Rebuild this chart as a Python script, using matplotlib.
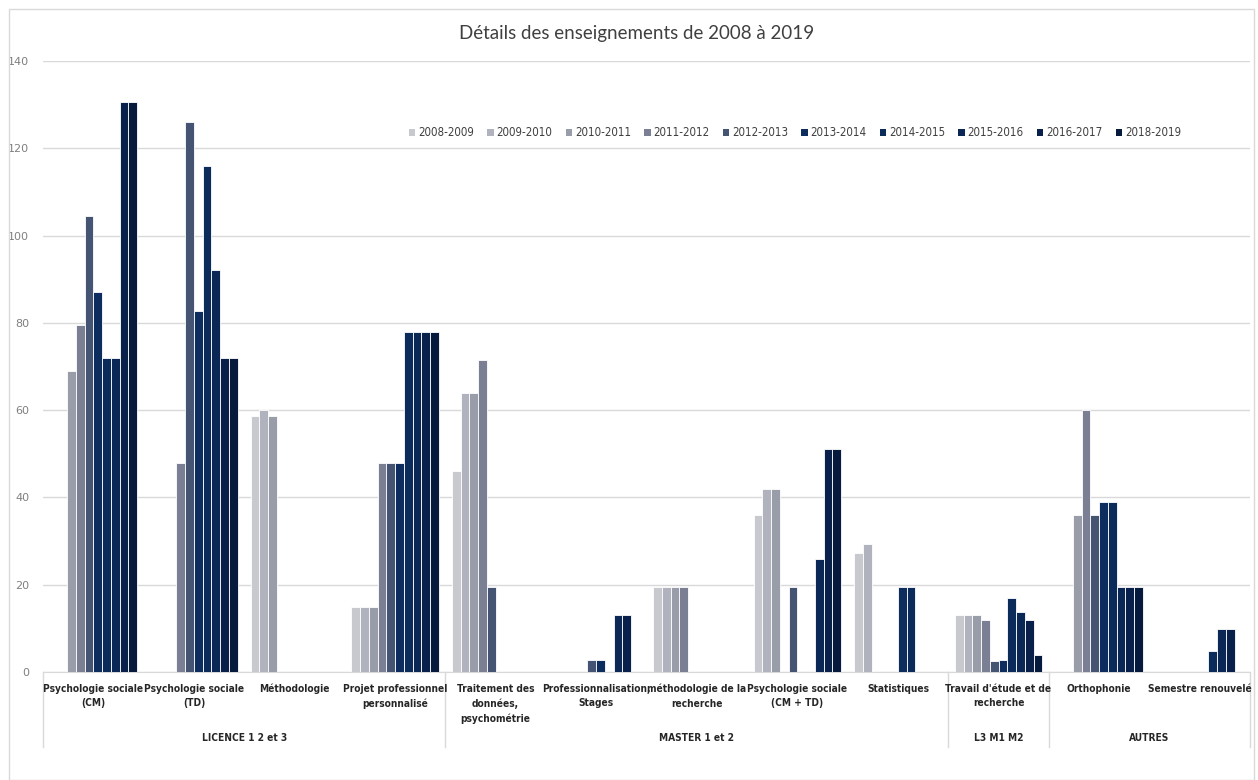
import numpy as np
import matplotlib
matplotlib.use("Agg")
import matplotlib.pyplot as plt
from matplotlib import font_manager
from matplotlib.patches import Rectangle, Patch

categories = [
    "Psychologie sociale\n(CM)", "Psychologie sociale\n(TD)", "Méthodologie",
    "Projet professionnel\npersonnalisé", "Traitement des\ndonnées,\npsychométrie",
    "Professionnalisation,\nStages", "méthodologie de la\nrecherche",
    "Psychologie sociale\n(CM + TD)", "Statistiques",
    "Travail d'étude et de\nrecherche", "Orthophonie", "Semestre renouvelé",
]
groups = ["LICENCE 1 2 et 3", "MASTER 1 et 2", "L3 M1 M2", "AUTRES"]
group_sizes = [4, 5, 1, 2]
years = ["2008-2009", "2009-2010", "2010-2011", "2011-2012", "2012-2013",
         "2013-2014", "2014-2015", "2015-2016", "2016-2017", "2018-2019"]

# one row per category, one value per school year
psy_cm = [0, 0, 69, 79.5, 104.5, 87, 72, 72, 130.5, 130.5]
psy_td = [0, 0, 0, 48, 126, 82.7, 116, 92, 72, 72]
methodo = [58.7, 60, 58.7, 0, 0, 0, 0, 0, 0, 0]
projet = [15, 15, 15, 48, 48, 48, 78, 78, 78, 78]
traitement = [46, 64, 64, 71.5, 19.5, 0, 0, 0, 0, 0]
profess = [0, 0, 0, 0, 2.8, 2.8, 0, 13, 13, 0]
methodo_rech = [19.5, 19.5, 19.5, 19.5, 0, 0, 0, 0, 0, 0]
psy_cmtd = [36, 42, 42, 0, 19.5, 0, 0, 26, 51, 51]
stats = [27.3, 29.4, 0, 0, 0, 19.5, 19.5, 0, 0, 0]
ter = [13, 13, 13, 12, 2.5, 2.8, 17, 13.8, 12, 4]
ortho = [0, 0, 36, 60, 36, 39, 39, 19.5, 19.5, 19.5]
semestre = [0, 0, 0, 0, 0, 0, 4.8, 9.8, 9.8, 0]

values = np.array([psy_cm, psy_td, methodo, projet, traitement, profess,
                   methodo_rech, psy_cmtd, stats, ter, ortho, semestre])

colors = ["#c8c9cf", "#b0b2bd", "#999daa", "#7a7f94", "#465473",
          "#0c2d5e", "#0b2b5a", "#0a2755", "#08204a", "#061a3d"]

# look for a narrow face, the original labels are compressed
installed = font_manager.fontManager.ttflist
narrow = [f.name for f in installed
          if f.stretch in ("condensed", "semi-condensed", "extra-condensed")
          or "Narrow" in f.name or "Condensed" in f.name]
if narrow:
    fam = [narrow[0], "DejaVu Sans"]
    stretch, weight, size = "condensed", "bold", 7.3
else:
    fam = ["Roboto", "DejaVu Sans"]
    stretch, weight, size = "normal", "medium", 7.0

fig = plt.figure(figsize=(12.58, 7.8), dpi=100)
ax = fig.add_axes([43 / 1258, 108 / 780, 1207 / 1258, 611 / 780])

x = np.arange(len(categories))
w = 0.087
for i, year in enumerate(years):
    ax.bar(x + (i - 4.5) * w, values[:, i], width=w, color=colors[i],
           edgecolor="white", linewidth=0.6, label=year, zorder=3)

ax.set_xlim(-0.5, len(categories) - 0.5)
ax.set_ylim(0, 140)
ax.set_yticks(range(0, 141, 20))
ax.tick_params(axis="y", length=0, labelsize=8, labelcolor="#7f7f7f", pad=10)
ax.set_xticks([])
ax.grid(axis="y", color="#d9d9d9", linewidth=1, zorder=0)
for s in ["left", "right", "top"]:
    ax.spines[s].set_visible(False)
ax.spines["bottom"].set_color("#d9d9d9")

tr = ax.get_xaxis_transform()
for xi, lab in zip(x, categories):
    ax.text(xi, -0.019, lab, transform=tr, ha="center", va="top",
            color="#262626", linespacing=1.55, family=fam, fontstretch=stretch,
            fontweight=weight, fontsize=size)

start = -0.5
for g, n in zip(groups, group_sizes):
    ax.text(start + n / 2, -0.108, g, transform=tr, ha="center", va="center",
            color="#262626", family=fam, fontstretch=stretch,
            fontweight=weight, fontsize=size)
    start += n
bounds = np.cumsum([0] + group_sizes) - 0.5
for b in bounds:
    ax.plot([b, b], [0, -0.123], transform=tr, color="#d9d9d9",
            linewidth=1, clip_on=False)

handles = [Patch(facecolor=c, label=y) for c, y in zip(colors, years)]
ax.legend(handles=handles, ncol=10, loc="center",
          bbox_to_anchor=(795 / 1258, (780 - 133) / 780),
          bbox_transform=fig.transFigure, frameon=False,
          prop=font_manager.FontProperties(family=fam, stretch=stretch,
                                           size=8.3),
          handlelength=0.55, handleheight=0.55, handletextpad=0.25,
          columnspacing=1.15, labelcolor="#404040")

fig.text(637 / 1258, (780 - 33) / 780, "Détails des enseignements de 2008 à 2019",
         ha="center", va="center", fontsize=13.5, color="#404040",
         family=["Lato", "DejaVu Sans"])

fig.patches.append(Rectangle((9 / 1258, 0), 1245 / 1258, 771 / 780,
                             transform=fig.transFigure, fill=False,
                             edgecolor="#d9d9d9", linewidth=1))

fig.savefig("out.png", dpi=100)
